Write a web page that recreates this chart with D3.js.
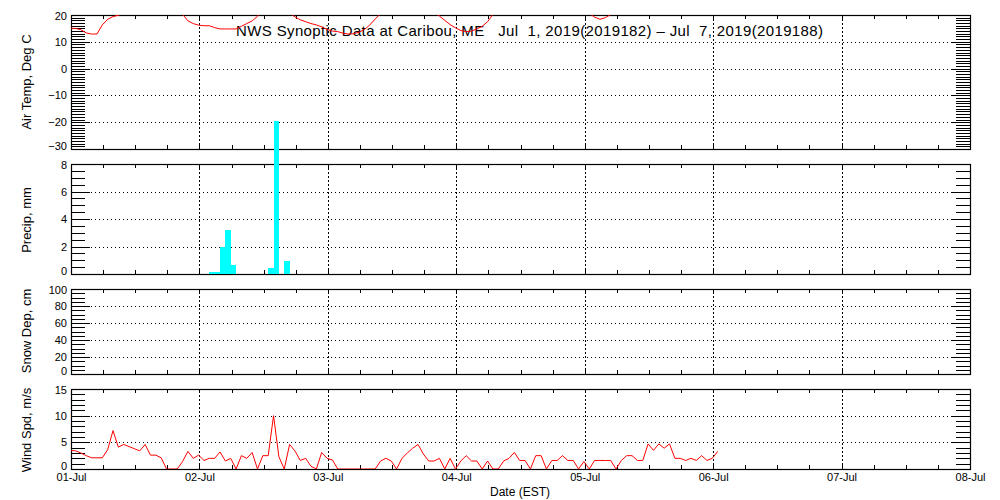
<!DOCTYPE html>
<html><head><meta charset="utf-8">
<script src="https://cdn.jsdelivr.net/npm/d3@7"></script>
<style>
body{margin:0;background:#fff}
svg{display:block}
text{font-family:"Liberation Sans",Arial,sans-serif;fill:#000}
</style></head><body>
<svg id="c" width="1000" height="500"></svg>
<script>
// ---- data (hourly synoptic observations, first at Jun 30 23:51 EST) ----
const obsStart = new Date(2019, 5, 30, 23, 51);
const airTemp = [
 15.0,15.0,14.5,13.3,12.9,12.9,16.3,18.4,19.4,19.9,20.6,21.7,22.8,23.9,24.4,25.0,25.6,25.0,24.4,23.3,
 21.7,20.3,17.8,16.8,16.2,16.0,16.0,15.3,14.8,14.8,14.8,14.8,15.8,16.8,17.8,19.5,21.7,23.3,24.4,23.9,
 22.2,20.8,19.3,18.2,17.5,16.8,16.3,15.6,14.6,14.0,13.8,13.2,12.9,13.0,13.6,14.6,16.3,18.5,20.5,22.2,
 23.9,25.0,26.1,26.7,27.2,26.7,25.6,23.3,20.9,19.6,18.0,16.4,15.2,14.2,13.8,14.0,14.8,15.8,17.5,20.2,
 22.2,23.9,25.6,26.7,27.8,28.3,28.9,28.9,28.3,27.2,26.1,25.0,23.9,23.3,22.8,22.2,21.7,20.6,19.2,18.4,
 19.0,20.2,21.7,23.3,25.0,26.7,27.8,28.9,29.4,30.0,30.0,29.4,28.3,27.2,26.1,25.0,24.4,23.3,22.8,22.2,
 21.7,21.1];
const windSpd = [
 3.5,3.4,3.0,2.5,2.1,2.1,2.1,3.6,7.2,4.1,4.6,4.2,3.8,3.4,4.6,2.6,2.6,2.1,0,0,
 0,1.4,3.3,2.0,2.6,1.6,2.0,2.0,3.2,1.5,2.0,0,2.5,2.0,3.1,0,2.5,2.5,10.0,2.3,
 0,4.6,3.4,1.6,2.0,0.5,0,3.1,2.0,1.7,0,0,0,0,0,0,0,0,1.5,2.0,
 1.5,0,2.0,3.0,3.9,4.6,2.8,1.5,1.5,2.0,0,2.0,0,1.5,2.5,1.5,1.5,0,1.5,0,
 0,1.5,2.0,3.1,1.6,1.6,0,2.5,2.5,0,1.6,1.6,2.5,1.6,1.6,0,1.4,0,1.6,1.6,
 1.6,1.6,0,1.6,2.5,2.5,1.6,1.6,4.7,3.5,4.7,3.9,4.7,2.0,2.0,1.6,2.0,1.6,2.5,1.6,
 2.0,3.3];
const snowDepth = [];   // no snow depth reported
const precipStart = ["2019-07-02 01:51","2019-07-02 02:51","2019-07-02 03:51","2019-07-02 04:51",
                     "2019-07-02 05:51","2019-07-02 12:51","2019-07-02 13:51","2019-07-02 15:51"];
const precipMM = [0.15,0.15,2.0,3.2,0.65,0.44,11.1,0.95];

const tempTicks   = [-30,-20,-10,0,10,20];
const precipTicks = [0,2,4,6,8];
const snowTicks   = [0,20,40,60,80,100];
const windTicks   = [0,5,10,15];
const dayLabels   = ["01-Jul","02-Jul","03-Jul","04-Jul","05-Jul","06-Jul","07-Jul","08-Jul"];
const titleText   = "NWS Synoptic Data at Caribou, ME   Jul  1, 2019(2019182) \u2013 Jul  7, 2019(2019188)";
const yTitles     = ["Air Temp, Deg C","Precip, mm","Snow Dep, cm","Wind Spd, m/s"];
const xTitle      = "Date (EST)";

// ---- layout ----
const X0 = 71, X1 = 970;
const svg = d3.select("#c");
const x = d3.scaleTime().domain([new Date(2019,6,1), new Date(2019,6,8)]).range([X0, X1]);
const panels = [
  {top:15,  bottom:149, domain:[-30,20], ticks:tempTicks,   minor:1,   title:yTitles[0], tc:82},
  {top:164, bottom:274, domain:[0,8],    ticks:precipTicks, minor:0.5, title:yTitles[1], tc:220},
  {top:289, bottom:374, domain:[0,100],  ticks:snowTicks,   minor:5,   title:yTitles[2], tc:331},
  {top:389, bottom:469, domain:[0,15],   ticks:windTicks,   minor:1,   title:yTitles[3], tc:430}
];
panels.forEach(p => p.y = d3.scaleLinear().domain(p.domain).range([p.bottom, p.top]));
const fmtTick = d => d < 0 ? "\u2212" + Math.abs(d) : String(d);
const days = d3.timeDay.range(new Date(2019,6,1), new Date(2019,6,9));

panels.forEach((p, k) => {
  const g = svg.append("g");
  const h = p.bottom - p.top;
  const [lo, hi] = p.domain;
  const minorVals = d3.range(lo, hi + 1e-9, p.minor);
  const inner = p.ticks.filter(v => v > lo && v < hi);
  // horizontal dotted grid
  g.append("g").attr("transform", `translate(${X0},0)`)
    .call(d3.axisLeft(p.y).tickValues(inner).tickSize(-(X1 - X0)).tickFormat(""))
    .call(s => s.select(".domain").remove())
    .selectAll("line").attr("stroke-dasharray", "1,3");
  // vertical dotted day grid
  g.append("g").attr("transform", `translate(0,${p.bottom})`)
    .call(d3.axisBottom(x).tickValues(days.slice(1, 7)).tickSize(-h).tickFormat(""))
    .call(s => s.select(".domain").remove())
    .selectAll("line").attr("stroke-dasharray", "2,2");
  // 6-hour ticks top and bottom
  g.append("g").attr("transform", `translate(0,${p.top})`)
    .call(d3.axisTop(x).ticks(d3.timeHour.every(6)).tickSize(-4).tickFormat(""))
    .call(s => s.select(".domain").remove());
  g.append("g").attr("transform", `translate(0,${p.bottom})`)
    .call(d3.axisBottom(x).ticks(d3.timeHour.every(6)).tickSize(-4).tickFormat(""))
    .call(s => s.select(".domain").remove());
  // left minor / major ticks with labels
  g.append("g").attr("transform", `translate(${X0},0)`)
    .call(d3.axisLeft(p.y).tickValues(minorVals).tickSize(-14).tickFormat(""))
    .call(s => s.select(".domain").remove());
  const la = g.append("g").attr("transform", `translate(${X0},0)`)
    .call(d3.axisLeft(p.y).tickValues(p.ticks).tickSizeInner(-19).tickSizeOuter(0).tickPadding(4).tickFormat(fmtTick))
    .call(s => s.select(".domain").remove());
  la.selectAll("text").attr("font-size", 11).attr("font-family", null)
    .attr("dy", d => d === lo ? "0.0em" : d === hi ? "0.45em" : "0.32em");
  // right minor / major ticks
  g.append("g").attr("transform", `translate(${X1},0)`)
    .call(d3.axisRight(p.y).tickValues(minorVals).tickSize(-14).tickFormat(""))
    .call(s => s.select(".domain").remove());
  g.append("g").attr("transform", `translate(${X1},0)`)
    .call(d3.axisRight(p.y).tickValues(inner).tickSize(-19).tickFormat(""))
    .call(s => s.select(".domain").remove());
  // frame
  g.append("rect").attr("x", X0 + 0.5).attr("y", p.top + 0.5)
    .attr("width", X1 - X0).attr("height", h)
    .attr("fill", "none").attr("stroke", "#000").attr("stroke-width", 1.2);
  // y title
  svg.append("text").attr("transform", `translate(31,${p.tc}) rotate(-90)`)
    .attr("text-anchor", "middle").attr("font-size", 13).text(p.title);
  // clip
  svg.append("clipPath").attr("id", "clip" + k).append("rect")
    .attr("x", X0).attr("y", p.top).attr("width", X1 - X0).attr("height", h);
});

// title
svg.append("text").attr("x", 236).attr("y", 36).attr("font-size", 15)
  .attr("textLength", 587).attr("lengthAdjust", "spacing")
  .style("white-space", "pre").text(titleText);

// x-axis day labels
const xa = svg.append("g").attr("transform", `translate(0,${panels[3].bottom})`)
  .call(d3.axisBottom(x).tickValues(days).tickSize(0).tickPadding(4).tickFormat((d, i) => dayLabels[i]))
  .call(s => s.select(".domain").remove());
xa.selectAll("text").attr("font-size", 11).attr("font-family", null);
svg.append("text").attr("x", 520).attr("y", 496).attr("text-anchor", "middle")
  .attr("font-size", 12).text(xTitle);

const tObs = i => d3.timeHour.offset(obsStart, i);

// temperature line
const tp = panels[0];
svg.append("path").attr("clip-path", "url(#clip0)")
  .attr("d", d3.line().x((d, i) => x(tObs(i))).y(d => tp.y(d))(airTemp))
  .attr("fill", "none").attr("stroke", "#ff0000").attr("stroke-width", 1);

// snow depth line (no data)
const sp = panels[2];
svg.append("path").attr("clip-path", "url(#clip2)")
  .attr("d", d3.line().x((d, i) => x(tObs(i))).y(d => sp.y(d))(snowDepth) || "")
  .attr("fill", "none").attr("stroke", "#ff0000");

// wind line
const wp = panels[3];
svg.append("path").attr("clip-path", "url(#clip3)")
  .attr("d", d3.line().x((d, i) => x(tObs(i))).y(d => wp.y(d))(windSpd))
  .attr("fill", "none").attr("stroke", "#ff0000").attr("stroke-width", 1);

// precipitation bars (not clipped, like the original)
const pp = panels[1];
const parse = d3.timeParse("%Y-%m-%d %H:%M");
svg.append("g").selectAll("rect").data(precipMM).join("rect")
  .attr("x", (d, i) => x(parse(precipStart[i])))
  .attr("width", (d, i) => x(d3.timeHour.offset(parse(precipStart[i]), 1)) - x(parse(precipStart[i])))
  .attr("y", d => pp.y(d))
  .attr("height", d => pp.y(0) - pp.y(d))
  .attr("fill", "#00ffff").attr("shape-rendering", "crispEdges");

svg.selectAll(".tick line").attr("shape-rendering", "crispEdges");
</script>
</body></html>
